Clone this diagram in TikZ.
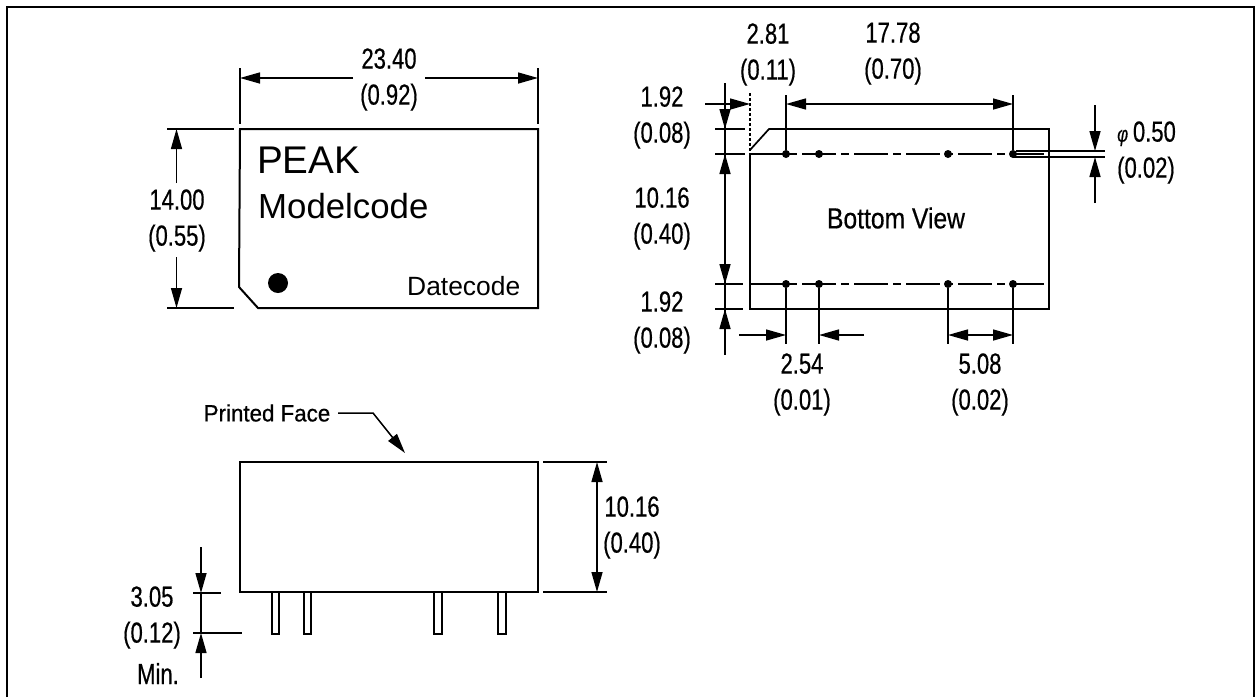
\documentclass[tikz,border=0pt]{standalone}
\usepackage{fontspec}
\setmainfont{Liberation Sans}
\newfontfamily\dimfamily[FakeStretch=0.76,FakeBold=0.5]{Liberation Sans}
\newfontfamily\viewfamily[FakeStretch=0.85,FakeBold=0.5]{Liberation Sans}
\newfontfamily\facefamily[FakeStretch=0.95,FakeBold=0.6]{Liberation Sans}
\usetikzlibrary{arrows.meta}
\begin{document}
\begin{tikzpicture}[
	x=1pt,
	y=-1pt,
	frame/.style={%
		draw,
		line width=2pt,
	},
	body/.style={%
		draw,
		line width=2pt,
	},
	thin line/.style={%
		draw,
		line width=1.7pt,
	},
	extline/.style={%
		draw,
		line width=1.6pt,
	},
	centerline/.style={%
		draw,
		line width=1.7pt,
		dash pattern=on 34pt off 5pt on 8pt off 5pt,
	},
	dimline/.style={%
		draw,
		line width=1.5pt,
		-{Triangle[length=20pt,width=11pt]},
	},
	dimboth/.style={%
		draw,
		line width=1.5pt,
		{Triangle[length=20pt,width=11pt]}-{Triangle[length=20pt,width=11pt]},
	},
	pin/.style={%
		circle,
		fill=black,
		inner sep=0pt,
		minimum size=8pt,
	},
	dimlabel/.style={%
		inner sep=0pt,
		align=center,
		yshift=-2.5pt,
		font=\dimfamily\fontsize{29}{36}\selectfont,
	},
	]
	\useasboundingbox (0,0) rectangle (1255,697);
	\draw [frame] (7,697) -- (7,6.5) -- (1254,6.5) -- (1254,697);

	\draw [body] (240,129) -- (538,129) -- (538,308) -- (258,308) -- (239,287) -- cycle;
	\node [circle,fill=black,inner sep=0pt,minimum size=20pt] (dot) at (278,283) {};
	\node [anchor=base west,inner sep=0pt,font=\fontsize{38.6}{40}\selectfont] (peak) at (257,173) {PEAK};
	\node [anchor=base west,inner sep=0pt,font=\fontsize{34.8}{36}\selectfont] (modelcode) at (258,218) {Modelcode};
	\node [anchor=base west,inner sep=0pt,font=\fontsize{26.4}{28}\selectfont] (datecode) at (407,295) {Datecode};
	\draw [extline] (240,68) -- (240,124);
	\draw [extline] (538,68) -- (538,124);
	\draw [extline] (167,129) -- (234,129);
	\draw [extline] (167,308) -- (234,308);
	\node [dimlabel] (topwidth) at (389,77) {23.40\\(0.92)};
	\node [dimlabel] (topheight) at (177,218) {14.00\\(0.55)};
	\draw [dimline] (353,78) -- (240,78);
	\draw [dimline] (425,78) -- (538,78);
	\draw [dimline] (176.5,183) -- (176.5,129);
	\draw [dimline] (176.5,257) -- (176.5,308);

	\draw [thin line] (750,154) -- (750,309) -- (1049,309) -- (1049,129) -- (769,129) -- (750,150);
	\draw [extline,dash pattern=on 3pt off 2pt] (750,93) -- (750,154);
	\draw [centerline] (750,154) -- (1049,154);
	\draw [centerline] (750,284) -- (1049,284);
	\foreach \pinname/\pinx in {a/786,b/819,c/948,d/1013} {
		\node [pin] (top\pinname) at (\pinx,154) {};
		\node [pin] (bot\pinname) at (\pinx,284) {};
	}
	\node [inner sep=0pt,font=\viewfamily\fontsize{29}{36}\selectfont] (bottomview) at (896,218) {Bottom View};
	\draw [extline] (786,95) -- (topa);
	\draw [extline] (1013,95) -- (topd);
	\draw [extline] (715,129) -- (745,129);
	\draw [extline] (715,154) -- (745,154);
	\draw [extline] (715,284) -- (743,284);
	\draw [extline] (715,309) -- (743,309);
	\draw [dimline] (705,104) -- (750,104);
	\draw [dimboth] (786,104) -- (1013,104);
	\draw [extline] (725,83) -- (725,355);
	\draw [dimline] (725,100) -- (725,129);
	\draw [dimboth] (725,154) -- (725,284);
	\draw [dimline] (725,340) -- (725,309);
	\node [dimlabel] (pinstart) at (768,52) {2.81\\(0.11)};
	\node [dimlabel] (pinspan) at (893,51) {17.78\\(0.70)};
	\node [dimlabel] (uppermargin) at (662,115) {1.92\\(0.08)};
	\node [dimlabel] (rowgap) at (662,216) {10.16\\(0.40)};
	\node [dimlabel] (lowermargin) at (662,320) {1.92\\(0.08)};

	\draw [extline] (1016,151) -- (1105,151);
	\draw [extline,line width=2pt] (1013,157) -- (1105,157);
	\draw [dimline] (1095,105) -- (1095,151);
	\draw [dimline] (1095,203) -- (1095,157);
	\node [dimlabel,anchor=west,align=left] (pindia) at (1117,150) {{\fontsize{22}{36}\selectfont\itshape φ}\,0.50\\(0.02)};

	\draw [extline] (bota) -- (786,344);
	\draw [extline] (botb) -- (819,344);
	\draw [extline] (botc) -- (948,344);
	\draw [extline] (botd) -- (1013,344);
	\draw [dimline] (739,335) -- (786,335);
	\draw [dimline] (864,335) -- (819,335);
	\draw [dimboth] (948,335) -- (1013,335);
	\node [dimlabel] (pinpitch) at (802,382) {2.54\\(0.01)};
	\node [dimlabel] (pingroup) at (980,382) {5.08\\(0.02)};

	\draw [body] (240,462) rectangle (538,592);
	\foreach \pinleft/\pinright in {272/279,304/311,434/442,498/506} {
		\draw [thin line] (\pinleft,593) -- (\pinleft,634) -- (\pinright,634) -- (\pinright,593);
	}
	\draw [extline] (543,462) -- (607,462);
	\draw [extline] (543,592) -- (607,592);
	\draw [dimboth] (597,462) -- (597,592);
	\node [dimlabel] (sideheight) at (632,525) {10.16\\(0.40)};
	\node [inner sep=0pt,font=\facefamily\fontsize{23.5}{28}\selectfont] (printedface) at (267,413) {Printed Face};
	\draw [dimline] (338,413) -- (373,413) -- (405,453);

	\draw [extline] (193,593) -- (221,593);
	\draw [extline] (193,633) -- (242,633);
	\draw [extline] (201,593) -- (201,633);
	\draw [dimline] (201,547) -- (201,593);
	\draw [dimline] (201,678) -- (201,633);
	\node [dimlabel] (pinlength) at (152,615) {3.05\\(0.12)};
	\node [dimlabel] (pinmin) at (158,671) {Min.};
\end{tikzpicture}
\end{document}
